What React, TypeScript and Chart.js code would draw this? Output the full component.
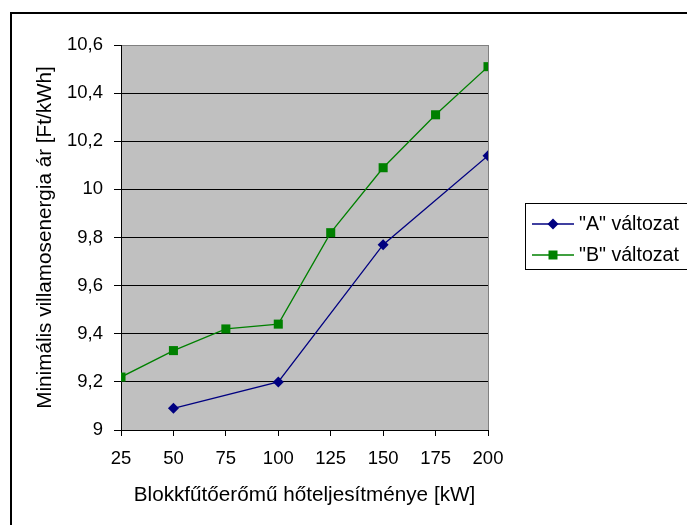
import React, { useEffect, useRef } from "react";
import { Chart, registerables } from "chart.js";

Chart.register(...registerables);

const xTicks = [25, 50, 75, 100, 125, 150, 175, 200];
const seriesAX = [50, 100, 150, 200];
const seriesAY = [9.09, 9.2, 9.77, 10.14];
const seriesBX = [25, 50, 75, 100, 125, 150, 175, 200];
const seriesBY = [9.22, 9.33, 9.42, 9.44, 9.82, 10.09, 10.31, 10.51];
const seriesNames = ['"A" változat', '"B" változat'];
const xTitle = "Blokkfűtőerőmű hőteljesítménye [kW]";
const yTitle = "Minimális villamosenergia ár [Ft/kWh]";

const FONT = "'Liberation Sans', Arial, sans-serif";
const colorA = "#000080";
const colorB = "#008000";

const framePlugin = {
  id: "framePlugin",
  beforeDraw(chart: any) {
    const { ctx, chartArea } = chart;
    ctx.save();
    ctx.fillStyle = "#ffffff";
    ctx.fillRect(0, 0, chart.width, chart.height);
    ctx.fillStyle = "#c0c0c0";
    ctx.fillRect(chartArea.left, chartArea.top, chartArea.right - chartArea.left, chartArea.bottom - chartArea.top);
    ctx.restore();
  },
  afterDraw(chart: any) {
    const { ctx, chartArea } = chart;
    ctx.save();
    ctx.strokeStyle = "#808080";
    ctx.lineWidth = 1;
    ctx.beginPath();
    ctx.moveTo(Math.round(chartArea.right) + 0.5, chartArea.top);
    ctx.lineTo(Math.round(chartArea.right) + 0.5, chartArea.bottom);
    ctx.stroke();
    ctx.strokeStyle = "#000000";
    ctx.lineWidth = 2;
    ctx.beginPath();
    ctx.moveTo(chart.width + 5, 13);
    ctx.lineTo(11, 13);
    ctx.lineTo(11, chart.height + 5);
    ctx.stroke();
    ctx.lineWidth = 1;
    ctx.strokeStyle = "#000000";
    ctx.strokeRect(525.5, 203.5, 200, 66);
    const rows = [
      { y: 224, color: colorA, style: "diamond", label: seriesNames[0] },
      { y: 255, color: colorB, style: "square", label: seriesNames[1] },
    ];
    ctx.font = `19.6px ${FONT}`;
    ctx.textBaseline = "middle";
    ctx.textAlign = "left";
    for (const r of rows) {
      ctx.strokeStyle = r.color;
      ctx.lineWidth = 1.3;
      ctx.beginPath();
      ctx.moveTo(532, r.y);
      ctx.lineTo(574, r.y);
      ctx.stroke();
      ctx.fillStyle = r.color;
      ctx.beginPath();
      if (r.style === "diamond") {
        ctx.moveTo(553 - 5.5, r.y);
        ctx.lineTo(553, r.y - 5.5);
        ctx.lineTo(553 + 5.5, r.y);
        ctx.lineTo(553, r.y + 5.5);
        ctx.closePath();
      } else {
        ctx.rect(553 - 4.5, r.y - 4.5, 9, 9);
      }
      ctx.fill();
      ctx.fillStyle = "#000000";
      ctx.fillText(r.label, 579, r.y + 1);
    }
    ctx.restore();
  },
};

function fmt(v: number) {
  const s = (Math.round(v * 10) / 10).toFixed(1).replace(/\.0$/, "");
  return s.replace(".", ",");
}

export default function App() {
  const ref = useRef<HTMLCanvasElement | null>(null);
  useEffect(() => {
    if (!ref.current) return;
    const chart = new Chart(ref.current, {
      type: "line",
      data: {
        datasets: [
          {
            label: seriesNames[0],
            data: seriesAX.map((x, i) => ({ x, y: seriesAY[i] })),
            borderColor: colorA,
            backgroundColor: colorA,
            borderWidth: 1.3,
            pointStyle: "rectRot",
            pointRadius: 5.5,
            pointBorderWidth: 0,
            tension: 0,
          },
          {
            label: seriesNames[1],
            data: seriesBX.map((x, i) => ({ x, y: seriesBY[i] })),
            borderColor: colorB,
            backgroundColor: colorB,
            borderWidth: 1.3,
            pointStyle: "rect",
            pointRadius: 6.4,
            pointBorderWidth: 0,
            tension: 0,
          },
        ],
      },
      options: {
        responsive: false,
        animation: false,
        devicePixelRatio: 1,
        layout: { padding: { top: 45, right: 199, left: 0, bottom: 0 } },
        plugins: { legend: { display: false }, tooltip: { enabled: false }, title: { display: false } },
        scales: {
          x: {
            type: "linear",
            min: 25,
            max: 200,
            afterFit: (s: any) => { s.height = 95; },
            afterBuildTicks: (s: any) => { s.ticks = xTicks.map((v) => ({ value: v })); },
            ticks: {
              color: "#000",
              font: { family: FONT, size: 18.5 },
              padding: 12,
              maxRotation: 0,
              autoSkip: false,
            },
            grid: { drawOnChartArea: false, drawTicks: true, tickLength: 6, color: "#000", tickColor: "#000" },
            border: { display: true, color: "#000", width: 1 },
            title: {
              display: true,
              text: xTitle,
              color: "#000",
              font: { family: FONT, size: 20.7 },
              padding: { top: 0, bottom: 17 },
            },
          },
          y: {
            type: "linear",
            min: 9,
            max: 10.6,
            afterFit: (s: any) => { s.width = 121; },
            ticks: {
              stepSize: 0.2,
              color: "#000",
              font: { family: FONT, size: 18.5 },
              padding: 11,
              callback: (v: any) => fmt(Number(v)),
            },
            grid: {
              drawOnChartArea: true,
              drawTicks: true,
              tickLength: 7,
              color: (c: any) => (c.tick && c.tick.value >= 10.59 ? "#808080" : "#000000"),
              tickColor: "#000",
            },
            border: { display: true, color: "#000", width: 1 },
            title: {
              display: true,
              text: yTitle,
              color: "#000",
              font: { family: FONT, size: 20.7 },
              padding: { top: 33, bottom: 0 },
            },
          },
        },
      },
      plugins: [framePlugin],
    } as any);
    return () => chart.destroy();
  }, []);
  return (
    <div style={{ position: "absolute", left: 0, top: 0, width: 687, height: 525 }}>
      <canvas ref={ref} width={687} height={525} style={{ display: "block", width: 687, height: 525 }} />
    </div>
  );
}
